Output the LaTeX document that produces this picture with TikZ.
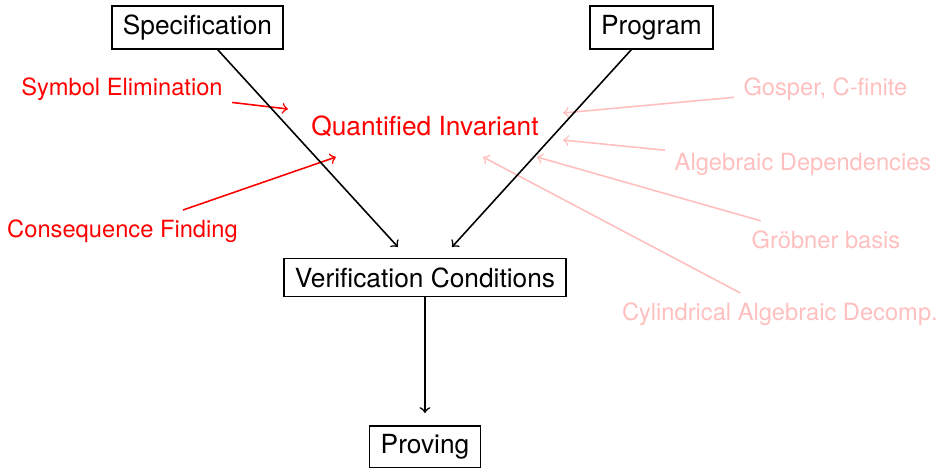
\documentclass[tikz,border=0pt]{standalone}
\usepackage{fontspec}
\setmainfont{TeX Gyre Heros}
\usetikzlibrary{positioning}

\begin{document}
\begin{tikzpicture}[node distance=2cm,on grid,semithick,
		box/.style={draw,inner xsep=4.2pt},
		idea/.style={text=red,font=\small},
		faint/.style={text=red!25,font=\small}]
	\useasboundingbox (-5.676,-2.544) rectangle (6.892,3.706);
	\node[box] (vc) at (0,0) {Verification Conditions};
	\node[box] (spec) [above left=3.339cm and 3.039cm of vc] {Specification};
	\node[box] (prog) [above right=3.339cm and 3.025cm of vc] {Program};
	\node[box] (proving) [below=2.264cm of vc] {Proving};
	\node[text=red] (qi) [above=2.023cm of vc] {Quantified Invariant};
	% techniques around the invariant
	\node[idea] (symb) [above left=2.511cm and 4.047cm of vc] {Symbol Elimination};
	\node[idea] (cons) [above left=0.621cm and 4.040cm of vc] {Consequence Finding};
	\node[faint] (gosper) [above right=2.518cm and 5.349cm of vc] {Gosper, C-finite};
	\node[faint] (algdep) [above right=1.516cm and 5.049cm of vc] {Algebraic Dependencies};
	\node[faint] (grob) [above right=0.508cm and 5.356cm of vc] {Gröbner basis};
	\node[faint] (cad) [below right=0.487cm and 4.741cm of vc] {Cylindrical Algebraic Decomp.};
	\coordinate (tsymb) at (-1.830,2.250);
	\coordinate (tcons) at (-1.189,1.609);
	\coordinate (tgosper) at (1.843,2.197);
	\coordinate (talg) at (1.843,1.836);
	\coordinate (tgrob) at (1.496,1.609);
	\coordinate (tcad) at (0.775,1.609);
	\coordinate (inl) at (-0.361,0.407);
	\coordinate (inr) at (0.361,0.407);
	\path[->,red!25]
		(gosper) edge (tgosper)
		(algdep) edge (talg)
		(grob) edge (tgrob)
		(cad) edge (tcad);
	\path[->,red]
		(symb) edge (tsymb)
		(cons) edge (tcons);
	\path[->]
		(spec) edge (inl)
		(prog) edge (inr)
		(vc) edge [shorten >=0.16cm] (proving);
\end{tikzpicture}
\end{document}
